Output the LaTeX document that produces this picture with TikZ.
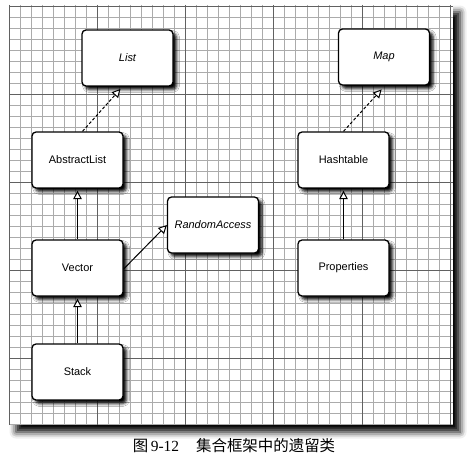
\documentclass[tikz,border=0pt]{standalone}
\usepackage{fontspec}
\setmainfont{Liberation Sans}
\newfontfamily\cjk{Noto Sans CJK SC}
\newfontfamily\serifnum{Liberation Serif}
\usetikzlibrary{arrows.meta,shadows.blur}
\begin{document}
\begin{tikzpicture}[x=1bp,y=-1bp,
  minorline/.style={draw=black!33, line width=0.6bp},
  majorline/.style={draw=black!62, line width=0.9bp},
  cls/.style={draw=black, line width=1.3bp, fill=white, rounded corners=4bp,
    minimum width=91bp, minimum height=56bp, inner sep=2bp,
    font=\fontsize{11}{13}\selectfont,
    blur shadow={shadow xshift=3.5bp, shadow yshift=-3.5bp, shadow blur radius=3bp, shadow opacity=100}},
  iface/.style={cls, font=\fontsize{11}{13}\selectfont\itshape},
  inherit/.style={line width=1bp, -{Triangle[fill=white, length=8.5bp, width=8.5bp, line width=1bp]}},
  realize/.style={inherit, dash pattern=on 3bp off 2bp},
  caption/.style={font=\fontsize{15.5}{18}\selectfont, inner sep=0pt}
]
\useasboundingbox (0,0) rectangle (467,469);
% panel
\fill[white, blur shadow={shadow xshift=7bp, shadow yshift=-7bp, shadow blur radius=6.5bp, shadow opacity=100}] (9,5) rectangle (453,425);
\foreach \i in {0,...,40} {
  \draw[minorline] ({9+\i*11.03},5) -- ({9+\i*11.03},425);
}
\foreach \i in {0,...,38} {
  \draw[minorline] (9,{6+\i*11}) -- (453,{6+\i*11});
}
\foreach \i in {0,...,5} {
  \draw[majorline] ({9+\i*88.25},5) -- ({9+\i*88.25},425);
}
\foreach \i in {0,...,4} {
  \draw[majorline] (9,{6+\i*88}) -- (453,{6+\i*88});
}
% classes
\node[iface] (list) at (127.5,58) {List};
\node[iface] (map) at (384,57) {Map};
\node[cls] (abstractlist) at (77.5,160) {AbstractList};
\node[cls] (hashtable) at (343.5,160) {Hashtable};
\node[iface] (randomaccess) at (213,225) {RandomAccess};
\node[cls] (vector) at (77.5,268) {Vector};
\node[cls] (properties) at (343.5,268) {Properties};
\node[cls] (stack) at (77.5,372) {Stack};
% connectors
\draw[realize, shorten >=3bp] ([xshift=5bp]abstractlist.north) -- ([xshift=-5bp]list.south);
\draw[realize, shorten >=5bp] (hashtable.north) -- ([xshift=1bp]map.south);
\draw[inherit, shorten >=2bp] (vector.north) -- (abstractlist.south);
\draw[inherit, shorten >=2bp] (stack.north) -- (vector.south);
\draw[inherit, shorten >=2bp] (properties.north) -- (hashtable.south);
\draw[inherit] ([yshift=-1bp]vector.east) -- (randomaccess.west);
% caption
\node[caption] (cap) at (234,446) {{\cjk 图}\,{\serifnum 9-12}\hspace{1.1em}{\cjk 集合框架中的遗留类}};
\end{tikzpicture}
\end{document}
